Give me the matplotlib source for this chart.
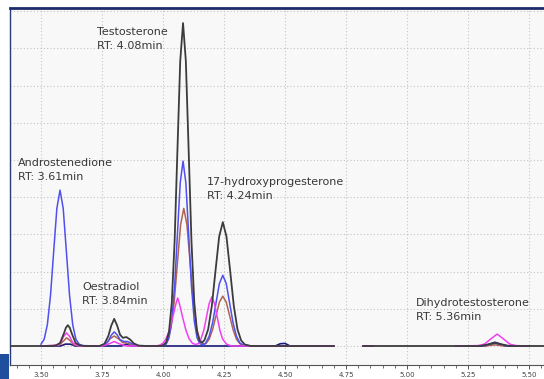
import numpy as np
import matplotlib
matplotlib.use("Agg")
import matplotlib.pyplot as plt
from matplotlib.patches import Rectangle
from matplotlib.ticker import MultipleLocator, FormatStrFormatter

nan = np.nan

# ---- traced chromatogram data (time in min, intensity in grid units) ----
black_t = [3.37, 3.55, 3.562, 3.578, 3.594, 3.602, 3.61, 3.618, 3.626, 3.642, 3.658, 3.68,
           3.74, 3.76, 3.776, 3.788, 3.80, 3.812, 3.824, 3.836, 3.85, 3.866, 3.88, 3.90, 3.93,
           3.99, 4.001, 4.013, 4.0245, 4.036, 4.0475, 4.059, 4.0705, 4.082, 4.0935, 4.105, 4.1165,
           4.128, 4.1395, 4.151, 4.16, 4.17, 4.185, 4.20, 4.215, 4.23, 4.245, 4.26, 4.275, 4.29,
           4.305, 4.32, 4.335, 4.36, 4.70, nan,
           4.82, 5.30, 5.33, 5.36, 5.39, 5.42, 5.57]
black_y = [0.0, 0.0, 0.02, 0.08, 0.34, 0.49, 0.56, 0.49, 0.34, 0.08, 0.02, 0.0,
           0.0, 0.06, 0.27, 0.55, 0.73, 0.55, 0.30, 0.22, 0.24, 0.17, 0.07, 0.01, 0.0,
           0.0, 0.02, 0.10, 0.38, 1.17, 2.82, 5.26, 7.66, 8.68, 7.66, 5.26, 2.82,
           1.17, 0.38, 0.12, 0.09, 0.16, 0.45, 1.08, 2.02, 2.94, 3.33, 2.94, 2.02, 1.08,
           0.45, 0.15, 0.04, 0.0, 0.0, nan,
           0.0, 0.0, 0.04, 0.08, 0.04, 0.0, 0.0]

blue_t = [3.50, 3.513, 3.526, 3.539, 3.552, 3.565, 3.578, 3.591, 3.604, 3.617, 3.630, 3.643,
          3.656, 3.67, 3.74, 3.76, 3.776, 3.788, 3.80, 3.812, 3.824, 3.84, 3.855, 3.87, 3.89,
          3.99, 4.013, 4.0245, 4.036, 4.0475, 4.059, 4.0705, 4.082, 4.0935, 4.105, 4.1165, 4.128,
          4.1395, 4.151, 4.165, 4.175, 4.189, 4.203, 4.217, 4.231, 4.245, 4.259, 4.273, 4.287,
          4.301, 4.315, 4.33, 4.36, 4.70, nan,
          4.82, 4.86, nan, 5.20, 5.31, 5.34, 5.36, 5.38, 5.41, 5.50]
blue_y = [0.05, 0.18, 0.57, 1.36, 2.54, 3.70, 4.19, 3.70, 2.54, 1.36, 0.57, 0.18,
          0.05, 0.01, 0.0, 0.02, 0.13, 0.29, 0.38, 0.30, 0.17, 0.12, 0.12, 0.07, 0.01,
          0.0, 0.05, 0.22, 0.67, 1.61, 3.01, 4.39, 4.97, 4.39, 3.01, 1.61, 0.67,
          0.22, 0.06, 0.03, 0.08, 0.26, 0.62, 1.15, 1.68, 1.90, 1.68, 1.15, 0.62,
          0.26, 0.08, 0.02, 0.0, 0.0, nan,
          0.0, 0.0, nan, 0.0, 0.0, 0.05, 0.08, 0.05, 0.0, 0.0]

brown_t = [3.50, 3.575, 3.59, 3.605, 3.62, 3.635, 3.66, 3.74, 3.765, 3.782, 3.80, 3.818,
           3.835, 3.85, 3.868, 3.89, 3.99, 4.007, 4.020, 4.033, 4.046, 4.059, 4.072, 4.085,
           4.098, 4.111, 4.124, 4.137, 4.150, 4.163, 4.175, 4.189, 4.203, 4.217, 4.231, 4.245,
           4.259, 4.273, 4.287, 4.301, 4.315, 4.33, 4.36, 4.70, nan,
           4.82, 4.86, nan, 5.20, 5.32, 5.36, 5.40, 5.50]
brown_y = [0.0, 0.02, 0.12, 0.22, 0.14, 0.03, 0.0, 0.0, 0.05, 0.19, 0.27, 0.19,
           0.09, 0.08, 0.04, 0.0, 0.0, 0.04, 0.16, 0.50, 1.20, 2.24, 3.26, 3.70,
           3.26, 2.24, 1.20, 0.50, 0.17, 0.06, 0.06, 0.18, 0.44, 0.81, 1.18, 1.34,
           1.18, 0.81, 0.44, 0.18, 0.06, 0.01, 0.0, 0.0, nan,
           0.0, 0.0, nan, 0.0, 0.0, 0.03, 0.0, 0.0]

mag_t = [3.50, 3.57, 3.58, 3.592, 3.605, 3.618, 3.63, 3.645, 3.66, 3.75, 3.78, 3.80, 3.82,
         3.85, 3.97, 3.985, 3.999, 4.012, 4.026, 4.040, 4.053, 4.060, 4.067, 4.080, 4.094,
         4.107, 4.121, 4.135, 4.150, 4.167, 4.178, 4.189, 4.200, 4.211, 4.222, 4.233, 4.244,
         4.26, 4.28, 4.70, nan,
         4.82, 4.86, nan, 5.20, 5.29, 5.317, 5.343, 5.369, 5.395, 5.421, 5.447, 5.50]
mag_y = [0.0, 0.02, 0.08, 0.25, 0.35, 0.25, 0.09, 0.02, 0.0, 0.0, 0.06, 0.12, 0.06,
         0.0, 0.0, 0.02, 0.07, 0.19, 0.42, 0.78, 1.14, 1.29, 1.14, 0.78, 0.42,
         0.19, 0.07, 0.04, 0.08, 0.42, 0.78, 1.14, 1.32, 1.14, 0.78, 0.42, 0.19,
         0.05, 0.0, 0.0, nan,
         0.0, 0.0, nan, 0.0, 0.01, 0.05, 0.19, 0.32, 0.19, 0.05, 0.01, 0.0]

navy_t = [3.50, 3.58, 3.60, 3.62, 3.64, 3.83, 3.85, 3.87, 4.46, 4.48, 4.50, 4.52, 4.70, nan,
          4.82, 4.86, nan, 5.20, 5.32, 5.34, 5.36, 5.38, 5.40, 5.50]
navy_y = [0.0, 0.0, 0.05, 0.05, 0.0, 0.0, 0.05, 0.0, 0.0, 0.06, 0.07, 0.0, 0.0, nan,
          0.0, 0.0, nan, 0.0, 0.0, 0.06, 0.10, 0.06, 0.0, 0.0]

xticks = [3.50, 3.75, 4.00, 4.25, 4.50, 4.75, 5.00, 5.25, 5.50]

labels = [
    ("Testosterone\nRT: 4.08min", 97, 27),
    ("Androstenedione\nRT: 3.61min", 18, 158),
    ("17-hydroxyprogesterone\nRT: 4.24min", 207, 177),
    ("Oestradiol\nRT: 3.84min", 82, 282),
    ("Dihydrotestosterone\nRT: 5.36min", 416, 298),
]

W, H = 544, 379
fig = plt.figure(figsize=(W / 100, H / 100), dpi=100)
fig.patch.set_facecolor("white")

ax_l, ax_r, ax_t, ax_b = 10, 544, 8, 365
ax = fig.add_axes([ax_l / W, 1 - ax_b / H, (ax_r - ax_l) / W, (ax_b - ax_t) / H])
ax.set_facecolor("#f8f8f8")

ax.set_xlim(3.373, 5.561)
ax.set_ylim(-0.511, 9.086)

ax.set_xticks(xticks)
ax.xaxis.set_major_formatter(FormatStrFormatter("%.2f"))
ax.xaxis.set_minor_locator(MultipleLocator(0.05))
ax.set_yticks(range(0, 10))
ax.tick_params(axis="y", left=False, labelleft=False)
ax.tick_params(axis="x", which="major", length=3, width=0.7, color="#555555",
               labelsize=5, labelcolor="#444444", pad=2)
ax.tick_params(axis="x", which="minor", length=2, width=0.6, color="#555555")

ax.grid(True, which="major", color="#c4c4c4", linestyle=(0, (1, 2)), linewidth=0.8)
ax.set_axisbelow(True)

for s in ["right"]:
    ax.spines[s].set_visible(False)
ax.spines["top"].set_color("#1e2c6a")
ax.spines["top"].set_linewidth(2.0)
ax.spines["left"].set_color("#2b3b78")
ax.spines["left"].set_linewidth(1.0)
ax.spines["bottom"].set_color("#555555")
ax.spines["bottom"].set_linewidth(0.8)

ax.plot(navy_t, navy_y, color="#1a1a7a", lw=1.2, zorder=3)
ax.plot(brown_t, brown_y, color="#b0644e", lw=1.1, zorder=4)
ax.plot(blue_t, blue_y, color="#5050f0", lw=1.1, zorder=5)
ax.plot(mag_t, mag_y, color="#f040f0", lw=1.1, zorder=6)
ax.plot(black_t, black_y, color="#3c3c3c", lw=1.3, zorder=7)

for txt, x, y in labels:
    fig.text(x / W, 1 - y / H, txt, ha="left", va="top", fontsize=8,
             color="#383838", linespacing=1.45, family="DejaVu Sans")

fig.patches.append(Rectangle((0, 0), 9 / W, (H - 354) / H, transform=fig.transFigure,
                             facecolor="#1f4f9c", edgecolor="none", zorder=10))

fig.savefig("out.png", dpi=100, facecolor="white")
